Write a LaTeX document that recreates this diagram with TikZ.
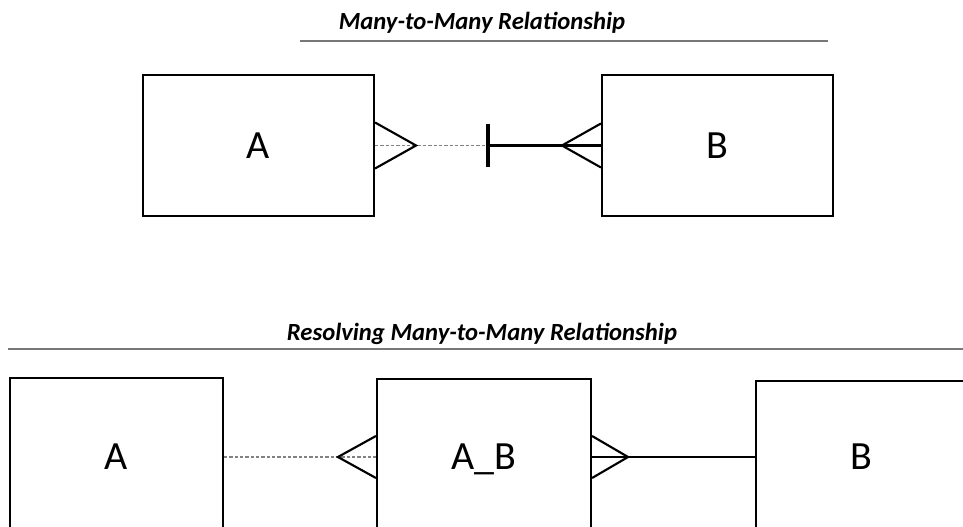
\documentclass[tikz,border=0pt]{standalone}
\usepackage{fontspec}
\setmainfont{Carlito}
\usetikzlibrary{calc}

\newcommand{\pxu}{0.75pt}
\tikzset{every picture/.style={line width=0.75pt}}
\tikzset{
	entity/.style={draw, line width=1.6pt, inner sep=0pt, text depth=0pt, font=\fontsize{30}{34}\selectfont},
	crowfoot/.style={line width=1.6pt},
	onebar/.style={line width=3pt},
	optional/.style={draw={rgb, 255:red, 130; green, 130; blue, 130}, dash pattern=on 2.5pt off 1.5pt, line width=1pt},
	heading/.style={inner sep=0.75pt, font=\fontsize{18.5}{22}\selectfont\bfseries\itshape},
	headrule/.style={draw={rgb, 255:red, 120; green, 120; blue, 120}, line width=1pt}}

\begin{document}
\begin{tikzpicture}[x=0.75pt,y=0.75pt,yscale=-1,xscale=1]
\useasboundingbox (0,0) rectangle (963,527);
\clip (0,0) rectangle (963,527);

% Text Node
\draw (482,23) node [heading] (title1) {Many-to-Many Relationship};
%Straight Lines
\draw [headrule] (300,41) -- (828,41) ;

%Shape: Rectangle
\node [entity, minimum width=231*\pxu, minimum height=141*\pxu] (A1) at (258.5,145.5) {A};
%Shape: Rectangle
\node [entity, minimum width=231*\pxu, minimum height=141*\pxu] (B1) at (717.5,145.5) {B};
\coordinate (bar) at (488,145.5);

%Straight Lines
\draw [optional] (A1.east) -- (bar) ;
\draw [crowfoot] (bar) -- (B1.west) ;
\draw [onebar] ($(bar)+(0,-21.5)$) -- ($(bar)+(0,21.5)$) ;
%Crow's feet
\draw [crowfoot] ($(A1.east)+(0,-23)$) -- ($(A1.east)+(41,0)$) -- ($(A1.east)+(0,23)$) ;
\draw [crowfoot] ($(B1.west)+(0,-22)$) -- ($(B1.west)+(-39,0)$) -- ($(B1.west)+(0,22)$) ;

% Text Node
\draw (482,334) node [heading] (title2) {Resolving Many-to-Many Relationship};
%Straight Lines
\draw [headrule] (8,349) -- (963,349) ;

%Shape: Rectangle
\node [entity, minimum width=213*\pxu, minimum height=158*\pxu] (A2) at (116.5,457) {A};
%Shape: Rectangle
\node [entity, minimum width=214*\pxu, minimum height=156*\pxu] (AB) at (484,457) {A\_B};
%Shape: Rectangle
\node [entity, minimum width=210*\pxu, minimum height=152*\pxu] (B2) at (861,457) {B};

%Straight Lines
\draw [optional] (A2.east) -- (AB.west) ;
\draw [crowfoot] (AB.east) -- (B2.west) ;
%Crow's feet
\draw [crowfoot] ($(AB.west)+(0,-21)$) -- ($(AB.west)+(-38,0)$) -- ($(AB.west)+(0,21)$) ;
\draw [crowfoot] ($(AB.east)+(0,-21)$) -- ($(AB.east)+(36,0)$) -- ($(AB.east)+(0,21)$) ;

\end{tikzpicture}
\end{document}
